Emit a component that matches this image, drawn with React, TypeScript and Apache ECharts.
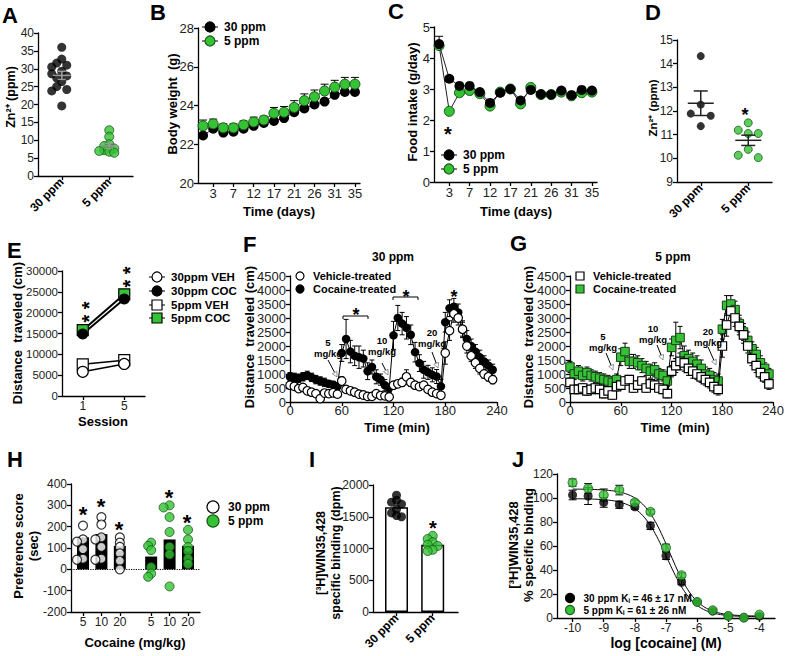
import React, { useEffect, useRef } from "react";
import * as echarts from "echarts";

const FONT = '"Liberation Sans", Arial, Helvetica, sans-serif';
const GREEN = "#35c235";
const GREEN_EDGE = "#175a17";

// ---------------- A: hair zinc ----------------
const dietGroups = ["30 ppm", "5 ppm"];
const zincA30 = [36, 32.7, 31.6, 31, 30.5, 29.3, 28.6, 28, 27.4, 26.4, 25, 24.2, 23.8, 19.6];
const zincA5 = [12.8, 11, 8.9, 8.4, 7.9, 7.7, 7.2, 7.0, 6.8, 6.5];

// ---------------- B / C: days ----------------
const dayLabels = ["1", "3", "5", "7", "10", "12", "14", "17", "19", "21", "24", "26", "28", "31", "33", "35"];
const bodyWeight30 = [22.45, 22.8, 22.6, 22.65, 22.8, 22.95, 23.1, 23.2, 23.35, 23.65, 23.85, 24.05, 24.2, 24.55, 24.7, 24.7];
const bodyWeight5 = [22.95, 23.05, 22.85, 22.85, 23.0, 23.15, 23.25, 23.6, 23.65, 23.9, 24.25, 24.45, 24.75, 24.95, 25.1, 25.1];
const bodyWeight5Sem = [0.3, 0.25, 0.2, 0.2, 0.2, 0.25, 0.2, 0.3, 0.3, 0.35, 0.35, 0.35, 0.35, 0.35, 0.35, 0.35];
const food30 = [4.45, 3.33, 3.1, 3.1, 2.9, 2.55, 2.88, 3.0, 2.63, 2.97, 2.83, 2.82, 2.95, 2.8, 2.97, 2.95];
const food5 = [4.4, 2.28, 2.88, 2.95, 2.85, 2.45, 2.9, 3.0, 2.52, 3.05, 2.82, 2.82, 2.9, 2.78, 2.88, 2.9];
const food30Sem = [0.25, 0.05, 0.05, 0.05, 0.05, 0.05, 0.05, 0.05, 0.05, 0.05, 0.05, 0.05, 0.05, 0.05, 0.05, 0.05];

// ---------------- D: serum zinc ----------------
const zincD30 = [14.32, 12.27, 11.89, 11.8, 11.36];
const zincD5 = [11.5, 11.19, 11.05, 11.05, 10.38, 10.13, 10.03];

// ---------------- E: sessions ----------------
const sessions = ["1", "5"];
const dist30Veh = [5800, 7700];
const dist30Coc = [14900, 23300];
const dist5Veh = [7600, 8600];
const dist5Coc = [15800, 24400];

// ---------------- F / G: time course ----------------
const timeMin = [0, 5, 10, 15, 20, 25, 30, 35, 40, 45, 50, 55, 60, 65, 70, 75, 80, 85, 90, 95, 100, 105, 110, 115,
  120, 125, 130, 135, 140, 145, 150, 155, 160, 165, 170, 175, 180, 185, 190, 195, 200, 205, 210, 215, 220, 225, 230, 235];
const f30Coc = [900, 880, 850, 900, 950, 880, 800, 750, 700, 650, 620, 560,
  1750, 2250, 1800, 1650, 1600, 1550, 1100, 1250, 900, 800, 600, 500,
  2380, 3000, 2800, 2650, 2400, 1780, 1390, 1150, 1060, 970, 910, 560,
  2850, 3350, 3400, 3200, 2600, 2250, 2000, 1800, 1600, 1450, 1300, 1150];
const f30CocSem = [150, 150, 150, 150, 150, 150, 150, 150, 150, 120, 120, 120,
  300, 700, 400, 350, 400, 300, 300, 250, 250, 200, 200, 150,
  500, 450, 400, 400, 350, 350, 300, 300, 250, 250, 250, 250,
  350, 300, 300, 300, 300, 300, 250, 250, 250, 200, 200, 200];
const f30Veh = [600, 560, 480, 520, 400, 350, 300, 120, 320, 300, 330, 280,
  750, 450, 400, 350, 280, 250, 200, 200, 300, 230, 220, 180,
  600, 650, 700, 900, 700, 600, 550, 600, 450, 350, 300, 240,
  1750, 2550, 3150, 3000, 2600, 2000, 1650, 1400, 1200, 1000, 900, 800];
const f30VehSem = [100, 100, 80, 80, 80, 80, 80, 80, 80, 80, 80, 80,
  150, 100, 80, 80, 80, 80, 80, 80, 80, 80, 80, 80,
  100, 100, 150, 250, 150, 100, 100, 100, 100, 100, 100, 100,
  400, 350, 300, 250, 250, 250, 200, 200, 200, 150, 150, 150];
const g5Coc = [1250, 1000, 1100, 950, 1050, 950, 900, 850, 800, 750, 700, 800,
  1600, 1800, 1450, 1450, 1400, 1300, 1200, 1100, 1150, 1000, 950, 750,
  1950, 2200, 2300, 1650, 1550, 1450, 1350, 1200, 1000, 950, 800, 750,
  2600, 3450, 3500, 3300, 2800, 2500, 2200, 1900, 1700, 1400, 1200, 1000];
const g5CocSem = [200, 200, 200, 200, 200, 200, 200, 200, 200, 200, 200, 200,
  300, 300, 250, 250, 250, 250, 250, 250, 250, 200, 200, 200,
  300, 650, 400, 350, 300, 300, 300, 300, 250, 250, 250, 250,
  350, 350, 300, 300, 300, 300, 300, 250, 250, 250, 200, 200];
const g5Veh = [700, 450, 450, 500, 400, 450, 500, 450, 300, 400, 250, 550,
  600, 750, 800, 500, 600, 750, 500, 650, 600, 500, 450, 300,
  1100, 1300, 1450, 1400, 1200, 1100, 1000, 900, 800, 700, 550, 450,
  2000, 2750, 3250, 3000, 2700, 2400, 2000, 1550, 1300, 1050, 900, 650];
const g5VehSem = [150, 150, 150, 150, 150, 150, 150, 150, 150, 150, 150, 150,
  150, 150, 150, 150, 150, 150, 150, 150, 150, 150, 150, 150,
  200, 250, 300, 300, 250, 250, 200, 200, 200, 200, 200, 200,
  400, 400, 350, 300, 300, 300, 250, 250, 250, 200, 200, 200];

// ---------------- H: CPP ----------------
const doseLabels = ["5", "10", "20", "5", "10", "20"];
const prefMeans = [150, 165, 110, 60, 140, 110];
const pref30_5 = [205, 140, 130, 95, 50, 45];
const pref30_10 = [245, 210, 150, 140, 105, 50, 45];
const pref30_20 = [150, 125, 105, 75, 40, 0];
const pref5_5 = [125, 110, 90, 10, -20, -35];
const pref5_10 = [300, 290, 245, 175, 105, 70, -80];
const pref5_20 = [185, 140, 105, 85, 50, 25];

// ---------------- I: binding ----------------
const binding30 = [1840, 1760, 1730, 1700, 1620, 1560, 1520, 1500];
const binding5 = [1200, 1150, 1100, 1060, 1040, 980, 960];
const bindingMeans = [1650, 1060];

// ---------------- J: displacement ----------------
const logCocaine = [-10, -9.5, -9, -8.5, -8, -7.5, -7, -6.5, -6, -5.5, -5, -4.5, -4];
const pct30 = [102.5, 101.6, 96.3, 94.4, 92.7, 76.8, 51.8, 29.8, 13.4, 5.8, 1.7, 0.3, 1.5];
const pct30Sem = [4, 7, 4, 3, 2, 3, 3, 2, 1, 1, 0.5, 0.5, 0.5];
const pct5 = [112.8, 108, 102.5, 106.6, 96.3, 88.5, 58.5, 35.6, 13.4, 6.4, 1.7, 0.3, 2.8];
const pct5Sem = [3, 4, 5, 4, 2, 2, 3, 2, 1, 1, 0.5, 0.5, 0.5];
const fit30 = { top: 99.5, bottom: 1, logIC50: -6.97 };
const fit5 = { top: 107.5, bottom: 1.5, logIC50: -6.88 };

// ---------------- helpers ----------------
const meanOf = (a: number[]) => a.reduce((s, v) => s + v, 0) / a.length;
const semOf = (a: number[]) => {
  const m = meanOf(a);
  const sd = Math.sqrt(a.reduce((s, v) => s + (v - m) * (v - m), 0) / (a.length - 1));
  return sd / Math.sqrt(a.length);
};

function beeswarm(values: number[], unitsPerPxY: number, pxPerUnitX: number, diam: number, step: number) {
  const idx = values.map((_, i) => i).sort((a, b) => values[b] - values[a]);
  const placed: number[][] = [];
  const off = new Array(values.length).fill(0);
  for (const i of idx) {
    const y = values[i] / unitsPerPxY;
    for (let k = 0; k < 40; k++) {
      const dx = k === 0 ? 0 : (k % 2 === 1 ? -1 : 1) * Math.ceil(k / 2) * step;
      if (placed.every((p) => Math.hypot(p[0] - dx, p[1] - y) >= diam)) {
        placed.push([dx, y]);
        off[i] = dx / pxPerUnitX;
        break;
      }
    }
  }
  return off;
}
const swarmData = (values: number[], pos: number, upy: number, ppx: number, diam: number, step: number) => {
  const off = beeswarm(values, upy, ppx, diam, step);
  return values.map((v, i) => [pos + off[i], v]);
};

function errSeries(xi: number, xs: number[], means: number[], errs: number[], color: string, cap: number, upOnly: boolean, lw = 1) {
  return {
    type: "custom", xAxisIndex: xi, yAxisIndex: xi, silent: true, z: 1,
    data: xs.map((x, i) => [x, means[i], errs[i]]),
    renderItem: (_p: any, api: any) => {
      const x = api.value(0), m = api.value(1), e = api.value(2);
      const t = api.coord([x, m + e]);
      const b = api.coord([x, upOnly ? m : m - e]);
      const st = { stroke: color, lineWidth: lw };
      const ch: any[] = [
        { type: "line", shape: { x1: t[0], y1: t[1], x2: b[0], y2: b[1] }, style: st },
        { type: "line", shape: { x1: t[0] - cap, y1: t[1], x2: t[0] + cap, y2: t[1] }, style: st },
      ];
      if (!upOnly) ch.push({ type: "line", shape: { x1: b[0] - cap, y1: b[1], x2: b[0] + cap, y2: b[1] }, style: st });
      return { type: "group", children: ch };
    },
  };
}

function meanSemSeries(xi: number, groups: number[][], color: string, half: number, cap: number) {
  return {
    type: "custom", xAxisIndex: xi, yAxisIndex: xi, silent: true, z: 5,
    data: groups.map((g, i) => [i, meanOf(g), semOf(g)]),
    renderItem: (_p: any, api: any) => {
      const x = api.value(0), m = api.value(1), s = api.value(2);
      const c = api.coord([x, m]);
      const t = api.coord([x, m + s]);
      const b = api.coord([x, m - s]);
      const st = { stroke: color, lineWidth: 1.5 };
      return {
        type: "group",
        children: [
          { type: "line", shape: { x1: c[0] - half, y1: c[1], x2: c[0] + half, y2: c[1] }, style: st },
          { type: "line", shape: { x1: t[0], y1: t[1], x2: b[0], y2: b[1] }, style: st },
          { type: "line", shape: { x1: t[0] - cap, y1: t[1], x2: t[0] + cap, y2: t[1] }, style: st },
          { type: "line", shape: { x1: b[0] - cap, y1: b[1], x2: b[0] + cap, y2: b[1] }, style: st },
        ],
      };
    },
  };
}

const fitX: number[] = [];
for (let k = 0; k <= 120; k++) fitX.push(-10 + k * 0.05);
const fitCurve = (p: { top: number; bottom: number; logIC50: number }) =>
  fitX.map((x) => [x, p.bottom + (p.top - p.bottom) / (1 + Math.pow(10, x - p.logIC50))]);

// ---------------- layout ----------------
const grids = [
  { left: 38, top: 33, width: 95, height: 143 },
  { left: 198, top: 28, width: 162, height: 155 },
  { left: 434, top: 27, width: 163, height: 155 },
  { left: 677, top: 40, width: 95, height: 142 },
  { left: 62, top: 271, width: 83, height: 125 },
  { left: 290, top: 276, width: 207, height: 126 },
  { left: 570, top: 276, width: 207, height: 126 },
  { left: 71, top: 484, width: 129, height: 128 },
  { left: 373, top: 485, width: 85, height: 127 },
  { left: 557, top: 474, width: 218, height: 144 },
];
const hPos = [0, 1, 2, 3.7, 4.7, 5.7];

const axisLine = { show: true, onZero: false, lineStyle: { color: "#000", width: 1.3 } };
const axisTick = { show: true, length: 4, lineStyle: { color: "#000", width: 1.3 } };
const plain = (v: number) => String(v);
const lbl = (size: number, extra: any = {}) => ({ color: "#222", fontSize: size, fontFamily: FONT, margin: 4, ...extra });
const oddIdx = (i: number) => i % 2 === 1;

function yAx(g: number, min: number, max: number, interval: number, size: number) {
  return { type: "value", gridIndex: g, min, max, interval, axisLine, axisTick, axisLabel: lbl(size, { formatter: plain }), splitLine: { show: false } };
}
function customX(g: number, min: number, max: number, vals: number[], fmt: (v: number) => string, labelExtra: any, size = 12) {
  return {
    type: "value", gridIndex: g, min, max, axisLine, splitLine: { show: false },
    axisTick: { ...axisTick, customValues: vals },
    axisLabel: { ...lbl(size, labelExtra), customValues: vals, formatter: fmt },
  };
}

// graphic helpers
const txt = (text: string, x: number, y: number, o: any = {}) => ({
  type: "text", x, y, rotation: o.rot || 0, silent: true, z: 100,
  style: {
    text, fill: o.color || "#000", fontFamily: FONT, fontSize: o.size || 12,
    fontWeight: o.bold === false ? "normal" : "bold", align: o.align || "center",
    verticalAlign: "middle", lineHeight: o.lh || undefined,
  },
});
const ROT = Math.PI / 2;
const star = (x: number, y: number, size = 20) => txt("*", x, y + size * 0.28, { size });
// two asterisks stacked vertically, written as one rotated run "* *"
const starPair = (x: number, yTop: number, yBottom: number, size = 20) =>
  txt("* *", x + size * 0.28, (yTop + yBottom) / 2, { size, rot: ROT });

function arrow(x1: number, y1: number, x2: number, y2: number) {
  const a = Math.atan2(y2 - y1, x2 - x1);
  const L = 5, W = 2.6;
  const bx = x2 - L * Math.cos(a), by = y2 - L * Math.sin(a);
  const px = -Math.sin(a) * W, py = Math.cos(a) * W;
  return [
    { type: "line", silent: true, z: 100, shape: { x1, y1, x2: bx, y2: by }, style: { stroke: "#000", lineWidth: 1 } },
    { type: "polygon", silent: true, z: 100, shape: { points: [[x2, y2], [bx + px, by + py], [bx - px, by - py]] }, style: { fill: "#fff", stroke: "#777", lineWidth: 0.8 } },
  ];
}
const legCircle = (x: number, y: number, fill: string, stroke: string, label: string, r = 5, size = 12, line = true) => {
  const els: any[] = [];
  if (line) els.push({ type: "line", silent: true, z: 100, shape: { x1: x - r - 3, y1: y, x2: x + r + 3, y2: y }, style: { stroke: "#000", lineWidth: 1 } });
  els.push({ type: "circle", silent: true, z: 101, shape: { cx: x, cy: y, r }, style: { fill, stroke, lineWidth: 1.2 } });
  els.push(txt(label, x + r + 9, y, { align: "left", size }));
  return els;
};
const legRect = (x: number, y: number, fill: string, stroke: string, label: string, r = 5, size = 12, line = true) => {
  const els: any[] = [];
  if (line) els.push({ type: "line", silent: true, z: 100, shape: { x1: x - r - 3, y1: y, x2: x + r + 3, y2: y }, style: { stroke: "#000", lineWidth: 1 } });
  els.push({ type: "rect", silent: true, z: 101, shape: { x: x - r, y: y - r, width: 2 * r, height: 2 * r }, style: { fill, stroke, lineWidth: 1.2 } });
  els.push(txt(label, x + r + 9, y, { align: "left", size }));
  return els;
};

function buildOption() {
  const idx16 = dayLabels.map((_, i) => i);
  const xAxis: any[] = [
    customX(0, -0.5, 1.5, [0, 1], (v) => dietGroups[Math.round(v)], { fontWeight: "bold", rotate: 45, color: "#000" }),
    { type: "category", gridIndex: 1, data: dayLabels, axisLine, axisTick: { ...axisTick, alignWithLabel: true, interval: oddIdx }, axisLabel: { ...lbl(13), interval: oddIdx } },
    { type: "category", gridIndex: 2, data: dayLabels, axisLine, axisTick: { ...axisTick, alignWithLabel: true, interval: oddIdx }, axisLabel: { ...lbl(13), interval: oddIdx } },
    customX(3, -0.5, 1.5, [0, 1], (v) => dietGroups[Math.round(v)], { fontWeight: "bold", rotate: 45, color: "#000" }),
    { type: "category", gridIndex: 4, data: sessions, axisLine, axisTick: { ...axisTick, alignWithLabel: true }, axisLabel: lbl(12) },
    { type: "value", gridIndex: 5, min: 0, max: 240, interval: 60, axisLine, axisTick, axisLabel: lbl(13, { margin: 2, formatter: plain }), splitLine: { show: false } },
    { type: "value", gridIndex: 6, min: 0, max: 240, interval: 60, axisLine, axisTick, axisLabel: lbl(13, { margin: 2, formatter: plain }), splitLine: { show: false } },
    customX(7, -0.65, 6.35, hPos, (v) => doseLabels[hPos.findIndex((p) => Math.abs(p - v) < 1e-6)] || "", {}),
    customX(8, -0.65, 1.7, [0, 1], (v) => dietGroups[Math.round(v)], { fontWeight: "bold", rotate: 45, color: "#000" }),
    customX(9, -10.5, -3.5, logCocaine.filter((v) => Number.isInteger(v)), (v) => String(v), {}),
  ];
  const yAxis: any[] = [
    yAx(0, 0, 40, 5, 12),
    yAx(1, 20, 28, 2, 13),
    yAx(2, 0, 5, 1, 13),
    yAx(3, 9, 15, 1, 12),
    yAx(4, 0, 30000, 5000, 11.5),
    yAx(5, 0, 4500, 500, 13),
    yAx(6, 0, 4500, 500, 13),
    yAx(7, -200, 400, 100, 12),
    yAx(8, 0, 2000, 500, 12),
    yAx(9, 0, 120, 20, 12),
  ];

  const blackDot = { color: "#000" };
  const greenDot = { color: GREEN, borderColor: GREEN_EDGE, borderWidth: 1 };
  const openDot = { color: "#fff", borderColor: "#000", borderWidth: 1.2 };
  const lineBase = { showAllSymbol: true, symbol: "circle", symbolSize: 10, lineStyle: { color: "#222", width: 1 } };

  const series: any[] = [];
  // A
  series.push({ type: "scatter", xAxisIndex: 0, yAxisIndex: 0, symbolSize: 9, itemStyle: blackDot, data: swarmData(zincA30, 0, 40 / 143, 47.5, 6, 5) });
  series.push({ type: "scatter", xAxisIndex: 0, yAxisIndex: 0, symbolSize: 9, itemStyle: greenDot, data: swarmData(zincA5, 1, 40 / 143, 47.5, 3.5, 5) });
  series.push(meanSemSeries(0, [zincA30, zincA5], "#9a9a9a", 9, 4));
  // B
  series.push(errSeries(1, idx16, bodyWeight5, bodyWeight5Sem, "#000", 4, true));
  series.push({ type: "line", xAxisIndex: 1, yAxisIndex: 1, data: bodyWeight30, ...lineBase, itemStyle: blackDot, z: 3 });
  series.push({ type: "line", xAxisIndex: 1, yAxisIndex: 1, data: bodyWeight5, ...lineBase, itemStyle: greenDot, z: 4 });
  // C
  series.push(errSeries(2, idx16, food30, food30Sem, "#000", 4, true));
  series.push({ type: "line", xAxisIndex: 2, yAxisIndex: 2, data: food5, ...lineBase, itemStyle: greenDot, z: 3 });
  series.push({ type: "line", xAxisIndex: 2, yAxisIndex: 2, data: food30, ...lineBase, itemStyle: blackDot, z: 4 });
  // D
  series.push({ type: "scatter", xAxisIndex: 3, yAxisIndex: 3, symbolSize: 8, itemStyle: blackDot, data: swarmData(zincD30, 0, 6 / 142, 47.5, 12, 10) });
  series.push({ type: "scatter", xAxisIndex: 3, yAxisIndex: 3, symbolSize: 8, itemStyle: greenDot, data: swarmData(zincD5, 1, 6 / 142, 47.5, 10, 10) });
  series.push(meanSemSeries(3, [zincD30, zincD5], "#222", 13, 7));
  // E
  series.push({ type: "line", xAxisIndex: 4, yAxisIndex: 4, data: dist5Veh, symbol: "rect", symbolSize: 11, itemStyle: openDot, lineStyle: { color: "#000", width: 1.5 } });
  series.push({ type: "line", xAxisIndex: 4, yAxisIndex: 4, data: dist30Veh, symbol: "circle", symbolSize: 11, itemStyle: openDot, lineStyle: { color: "#000", width: 1.5 } });
  series.push({ type: "line", xAxisIndex: 4, yAxisIndex: 4, data: dist5Coc, symbol: "rect", symbolSize: 11, itemStyle: { color: GREEN, borderColor: "#000", borderWidth: 1.2 }, lineStyle: { color: "#000", width: 2 } });
  series.push({ type: "line", xAxisIndex: 4, yAxisIndex: 4, data: dist30Coc, symbol: "circle", symbolSize: 11, itemStyle: blackDot, lineStyle: { color: "#000", width: 2 } });
  // F
  series.push(errSeries(5, timeMin, f30Coc, f30CocSem, "#000", 2.5, false));
  series.push(errSeries(5, timeMin, f30Veh, f30VehSem, "#000", 2.5, false));
  series.push({ type: "line", xAxisIndex: 5, yAxisIndex: 5, data: timeMin.map((t, i) => [t, f30Coc[i]]), showAllSymbol: true, symbol: "circle", symbolSize: 8.5, itemStyle: blackDot, lineStyle: { color: "#000", width: 1 }, z: 3 });
  series.push({ type: "line", xAxisIndex: 5, yAxisIndex: 5, data: timeMin.map((t, i) => [t, f30Veh[i]]), showAllSymbol: true, symbol: "circle", symbolSize: 8.5, itemStyle: openDot, lineStyle: { color: "#000", width: 1 }, z: 4 });
  // G
  series.push(errSeries(6, timeMin, g5Coc, g5CocSem, "#000", 2.5, false));
  series.push(errSeries(6, timeMin, g5Veh, g5VehSem, "#000", 2.5, false));
  series.push({ type: "line", xAxisIndex: 6, yAxisIndex: 6, data: timeMin.map((t, i) => [t, g5Coc[i]]), showAllSymbol: true, symbol: "rect", symbolSize: 8.5, itemStyle: { color: GREEN, borderColor: "#1c3d1c", borderWidth: 1 }, lineStyle: { color: "#000", width: 1 }, z: 3 });
  series.push({ type: "line", xAxisIndex: 6, yAxisIndex: 6, data: timeMin.map((t, i) => [t, g5Veh[i]]), showAllSymbol: true, symbol: "rect", symbolSize: 8.5, itemStyle: openDot, lineStyle: { color: "#000", width: 1 }, z: 4 });
  // H
  series.push({
    type: "bar", xAxisIndex: 7, yAxisIndex: 7, barWidth: 12, itemStyle: { color: "#000" },
    data: hPos.map((p, i) => [p, prefMeans[i]]),
    markLine: { silent: true, symbol: ["none", "none"], label: { show: false }, lineStyle: { type: "dotted", color: "#000", width: 1.2 }, data: [{ yAxis: 0 }] },
  });
  const hUpy = 600 / 128, hPpx = 129 / 7;
  const h30 = [pref30_5, pref30_10, pref30_20].flatMap((g, i) => swarmData(g, hPos[i], hUpy, hPpx, 4, 3));
  const h5 = [pref5_5, pref5_10, pref5_20].flatMap((g, i) => swarmData(g, hPos[i + 3], hUpy, hPpx, 4, 3));
  series.push({ type: "scatter", xAxisIndex: 7, yAxisIndex: 7, symbolSize: 9, itemStyle: openDot, data: h30, z: 5 });
  series.push({ type: "scatter", xAxisIndex: 7, yAxisIndex: 7, symbolSize: 9, itemStyle: greenDot, data: h5, z: 5 });
  // I
  series.push({ type: "bar", xAxisIndex: 8, yAxisIndex: 8, barWidth: 23, itemStyle: { color: "#fff", borderColor: "#000", borderWidth: 1.5 }, data: bindingMeans.map((m, i) => [i, m]) });
  series.push({ type: "scatter", xAxisIndex: 8, yAxisIndex: 8, symbolSize: 9, itemStyle: blackDot, data: swarmData(binding30, 0, 2000 / 127, 36.2, 5, 5), z: 5 });
  series.push({ type: "scatter", xAxisIndex: 8, yAxisIndex: 8, symbolSize: 9, itemStyle: greenDot, data: swarmData(binding5, 1, 2000 / 127, 36.2, 5, 5), z: 5 });
  // J
  series.push(errSeries(9, logCocaine, pct30, pct30Sem, "#000", 4, false));
  series.push(errSeries(9, logCocaine, pct5, pct5Sem, "#000", 4, false));
  series.push({ type: "line", xAxisIndex: 9, yAxisIndex: 9, data: fitCurve(fit30), showSymbol: false, symbol: "none", lineStyle: { color: "#000", width: 1 }, z: 2 });
  series.push({ type: "line", xAxisIndex: 9, yAxisIndex: 9, data: fitCurve(fit5), showSymbol: false, symbol: "none", lineStyle: { color: "#000", width: 1 }, z: 2 });
  series.push({ type: "scatter", xAxisIndex: 9, yAxisIndex: 9, symbolSize: 9, itemStyle: blackDot, data: logCocaine.map((x, i) => [x, pct30[i]]), z: 4 });
  series.push({ type: "scatter", xAxisIndex: 9, yAxisIndex: 9, symbolSize: 9, itemStyle: greenDot, data: logCocaine.map((x, i) => [x, pct5[i]]), z: 5 });

  const g: any[] = [];
  // panel letters
  [["A", 2, 15], ["B", 150, 12], ["C", 388, 11], ["D", 645, 12], ["E", 7, 250], ["F", 243, 244], ["G", 510, 243], ["H", 7, 459], ["I", 309, 459], ["J", 512, 459]].forEach((l: any) =>
    g.push(txt(l[0], l[1], l[2], { size: 22, align: "left" }))
  );
  // axis titles
  g.push(txt("Zn²⁺ (ppm)", 11, 97, { rot: ROT, size: 12.5 }));
  g.push(txt("Body weight  (g)", 172, 104, { rot: ROT, size: 13 }));
  g.push(txt("Time (days)", 279, 211, { size: 13 }));
  g.push(txt("Food intake (g/day)", 412, 102, { rot: ROT, size: 13 }));
  g.push(txt("Time (days)", 516, 211, { size: 13 }));
  g.push(txt("Zn²⁺ (ppm)", 653, 108, { rot: ROT, size: 11.5 }));
  g.push(txt("Distance  traveled (cm)", 17, 333, { rot: ROT, size: 13 }));
  g.push(txt("Session", 103, 421, { size: 13 }));
  g.push(txt("Distance  traveled (cm)", 249, 337, { rot: ROT, size: 13 }));
  g.push(txt("Time (min)", 397, 427, { size: 13 }));
  g.push(txt("Distance  traveled (cm)", 528, 337, { rot: ROT, size: 13 }));
  g.push(txt("Time  (min)", 675, 427, { size: 13 }));
  g.push(txt("Preference score\n(sec)", 26, 546, { rot: ROT, size: 13, lh: 15 }));
  g.push(txt("Cocaine (mg/kg)", 135, 642, { size: 13 }));
  g.push(txt("[³H]WIN35,428\nspecific binding (dpm)", 328, 553, { rot: ROT, size: 12.5, lh: 15 }));
  g.push(txt("[³H]WIN35,428\n% specific binding", 521, 545, { rot: ROT, size: 13, lh: 15 }));
  g.push(txt("log [cocaine] (M)", 666, 643, { size: 14 }));
  // titles
  g.push(txt("30 ppm", 393, 257, { size: 12 }));
  g.push(txt("5 ppm", 673, 257, { size: 12 }));
  // legends
  g.push(...legCircle(210, 27, "#000", "#000", "30 ppm"));
  g.push(...legCircle(210, 41, GREEN, GREEN_EDGE, "5 ppm"));
  g.push(...legCircle(449, 155, "#000", "#000", "30 ppm"));
  g.push(...legCircle(449, 169, GREEN, GREEN_EDGE, "5 ppm"));
  g.push(...legCircle(157, 277, "#fff", "#000", "30ppm VEH", 5, 11.5));
  g.push(...legCircle(157, 291, "#000", "#000", "30ppm COC", 5, 11.5));
  g.push(...legRect(157, 305, "#fff", "#000", "5ppm VEH", 5, 11.5));
  g.push(...legRect(157, 318, GREEN, "#000", "5ppm COC", 5, 11.5));
  g.push(...legCircle(300, 276, "#fff", "#000", "Vehicle-treated", 4, 11, false));
  g.push(...legCircle(300, 289, "#000", "#000", "Cocaine-treated", 4, 11, false));
  g.push(...legRect(580, 276, "#fff", "#000", "Vehicle-treated", 4, 11, false));
  g.push(...legRect(580, 289, GREEN, "#1c3d1c", "Cocaine-treated", 4, 11, false));
  g.push(...legCircle(213, 507, "#fff", "#000", "30 ppm", 6, 12, false));
  g.push(...legCircle(213, 521, GREEN, GREEN_EDGE, "5 ppm", 6, 12, false));
  g.push(...legCircle(570, 598, "#000", "#000", "30 ppm Kᵢ = 46 ± 17 nM", 4.5, 10, false));
  g.push(...legCircle(570, 610, GREEN, GREEN_EDGE, "5 ppm Kᵢ = 61 ± 26 nM", 4.5, 10, false));
  // asterisks
  g.push(star(448, 128, 20));
  g.push(star(745, 110, 18));
  g.push(starPair(83, 306, 318, 20), starPair(124, 271, 283, 20));
  g.push(star(356, 310, 18), star(406, 292, 18), star(454, 292, 18));
  g.push({ type: "polyline", silent: true, z: 100, shape: { points: [[343, 319], [343, 316], [368, 316], [368, 319]] }, style: { stroke: "#000", lineWidth: 1, fill: "none" } });
  g.push({ type: "polyline", silent: true, z: 100, shape: { points: [[393, 300], [393, 297], [418, 297], [418, 300]] }, style: { stroke: "#000", lineWidth: 1, fill: "none" } });
  g.push(star(83, 508, 22), star(101, 500, 22), star(119, 523, 22), star(169, 491, 22), star(187, 516, 22));
  g.push(star(433, 522, 20));
  // dose annotations
  const dose = (label: string, x: number, y: number) => txt(label + "\nmg/kg", x, y, { size: 9.5, lh: 10.5 });
  g.push(dose("5", 328, 348), ...arrow(328, 360, 337, 377));
  g.push(dose("10", 382, 346), ...arrow(382, 363, 388, 375));
  g.push(dose("20", 432, 338), ...arrow(432, 352, 438, 368));
  g.push(dose("5", 603, 342), ...arrow(606, 353, 613, 370));
  g.push(dose("10", 653, 334), ...arrow(657, 345, 663, 360));
  g.push(dose("20", 708, 337), ...arrow(708, 347, 716, 365));

  return {
    animation: false,
    backgroundColor: "#fff",
    textStyle: { fontFamily: FONT },
    grid: grids.map((gr) => ({ ...gr, containLabel: false })),
    xAxis,
    yAxis,
    series,
    graphic: { elements: g },
  };
}

export default function App() {
  const ref = useRef<HTMLDivElement>(null);
  useEffect(() => {
    const chart = echarts.init(ref.current as HTMLDivElement, null, { renderer: "svg" });
    chart.setOption(buildOption() as any);
    return () => chart.dispose();
  }, []);
  return <div ref={ref} style={{ position: "fixed", left: 0, top: 0, width: 787, height: 656, background: "#fff" }} />;
}
